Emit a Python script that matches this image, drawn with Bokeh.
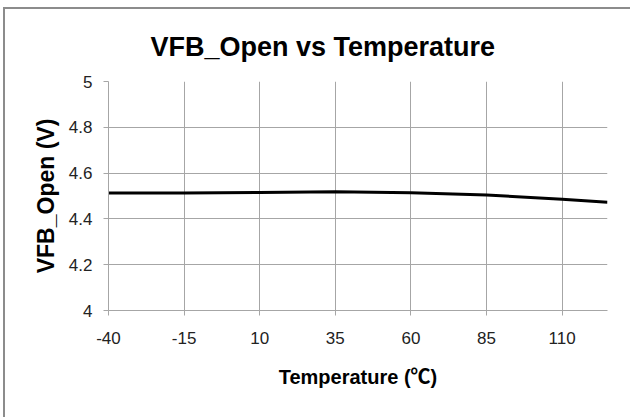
from bokeh.plotting import figure
from bokeh.models import FixedTicker, Range1d
from bokeh.embed import file_html
from bokeh.resources import INLINE

# Data
temperature = [-40, -15, 10, 35, 60, 85, 110, 125]
vfb_open = [4.513, 4.513, 4.515, 4.519, 4.514, 4.504, 4.486, 4.473]

x_ticks = [-40, -15, 10, 35, 60, 85, 110]
x_tick_labels = ["-40", "-15", "10", "35", "60", "85", "110"]
y_ticks = [4, 4.2, 4.4, 4.6, 4.8, 5]
y_tick_labels = ["4", "4.2", "4.4", "4.6", "4.8", "5"]

W, H = 627, 410
FONT = "Liberation Sans"

p = figure(width=W, height=H, output_backend="svg", toolbar_location=None,
           x_range=Range1d(-40, 125), y_range=Range1d(4, 5),
           min_border_left=103, min_border_right=25, min_border_top=72, min_border_bottom=109)
p.styles = {"margin-left": "5px", "margin-top": "9px", "box-shadow": "-2px -2px 0 0 #8c8c8c"}
p.outline_line_color = None
p.background_fill_color = "white"
p.border_fill_color = "white"

p.title.text = "VFB_Open vs Temperature"
p.title.text_font = FONT
p.title.text_font_size = "27px"
p.title.text_font_style = "bold"
p.title.text_color = "black"
p.title.align = "left"
p.title.offset = 42
p.title.standoff = 39

p.line(temperature, vfb_open, line_color="black", line_width=3)

grid_col = "#a6a6a6"
p.xaxis.ticker = FixedTicker(ticks=x_ticks)
p.yaxis.ticker = FixedTicker(ticks=y_ticks)
p.xaxis.major_label_overrides = {t: l for t, l in zip(x_ticks, x_tick_labels)}
p.yaxis.major_label_overrides = {t: l for t, l in zip(y_ticks, y_tick_labels)}
for ax in (p.xaxis[0], p.yaxis[0]):
    ax.axis_line_color = grid_col
    ax.major_tick_line_color = grid_col
    ax.major_tick_in = 0
    ax.major_tick_out = 5
    ax.minor_tick_line_color = None
    ax.major_label_text_font = FONT
    ax.major_label_text_font_size = "17px"
    ax.major_label_text_color = "#222222"
    ax.axis_label_text_font_style = "bold"
    ax.axis_label_text_color = "black"
p.yaxis.major_label_standoff = 11
p.xaxis.major_label_standoff = 16
p.xaxis.axis_label = "Temperature (\u2103)"
p.xaxis.axis_label_text_font = "Liberation Sans, Noto Sans CJK SC"
p.xaxis.axis_label_text_font_size = "20px"
p.xaxis.axis_label_standoff = 19
p.yaxis.axis_label = "VFB_Open (V)"
p.yaxis.axis_label_text_font = FONT
p.yaxis.axis_label_text_font_size = "23px"
p.yaxis.axis_label_standoff = 7

p.xgrid.grid_line_color = grid_col
p.ygrid.grid_line_color = grid_col

open("out.html", "w").write(file_html(p, INLINE))
